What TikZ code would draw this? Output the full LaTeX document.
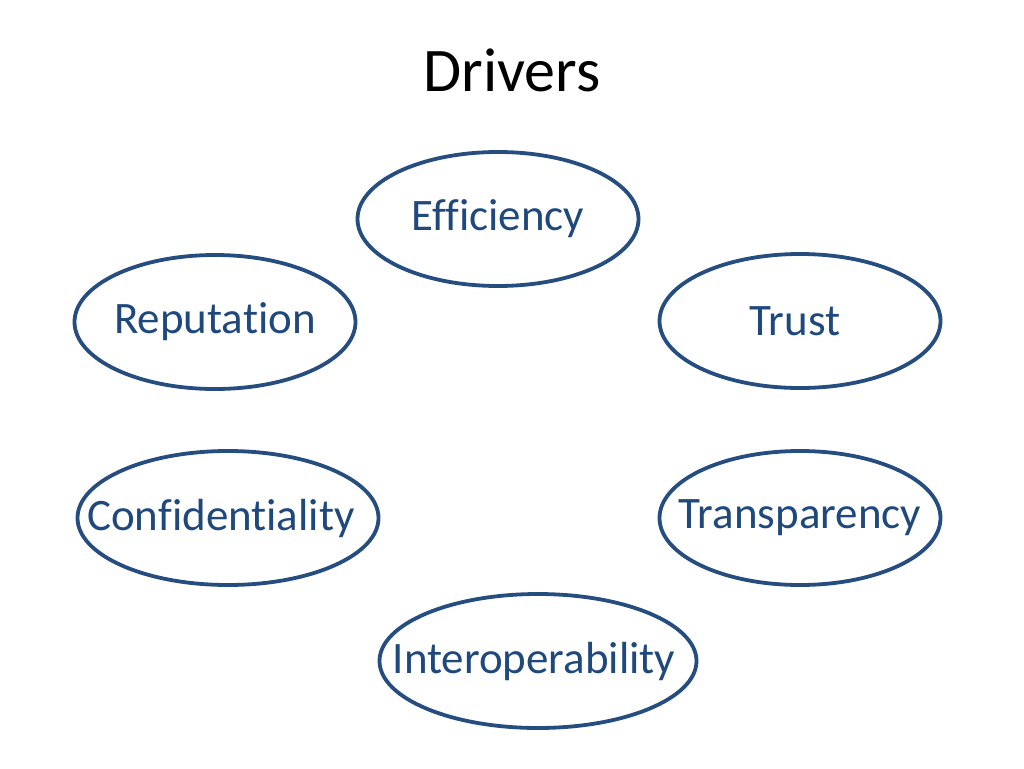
\documentclass[tikz,border=0pt]{standalone}
\usepackage{fontspec}
\setmainfont{Carlito}[Ligatures={NoCommon}]
\usetikzlibrary{shapes.geometric}
\definecolor{drvblue}{HTML}{1F497D}
\definecolor{drvline}{HTML}{264D80}
\newcommand{\drvtext}[2][0pt]{\raisebox{-2pt}{\makebox[0pt]{\hspace*{#1}#2}}}
\tikzset{
  driver/.style={ellipse, draw=drvline, line width=3.8pt, inner sep=0pt,
    minimum width=#1, minimum height=134pt, text=drvblue,
    font=\fontsize{45}{54}\selectfont},
  driver/.default=281pt
}
\begin{document}
\begin{tikzpicture}[x=1pt,y=-1pt]
\useasboundingbox (0,0) rectangle (1024,768);
\fill[white] (0,0) rectangle (1024,768);
\node[font=\fontsize{62}{74}\selectfont] (title) at (512,70) {Drivers};
\node[driver] (eff) at (498,219) {\drvtext{Efficiency}};
\node[driver] (rep) at (215,322) {\drvtext{Reputation}};
\node[driver] (tru) at (800,321) {\drvtext[-10pt]{Trust}};
\node[driver=301pt] (con) at (228,518) {\drvtext[-14pt]{Confidentiality}};
\node[driver] (tra) at (800,518) {\drvtext{Transparency}};
\node[driver=317pt] (int) at (538,661) {\drvtext[-8pt]{Interoperability}};
\end{tikzpicture}
\end{document}
